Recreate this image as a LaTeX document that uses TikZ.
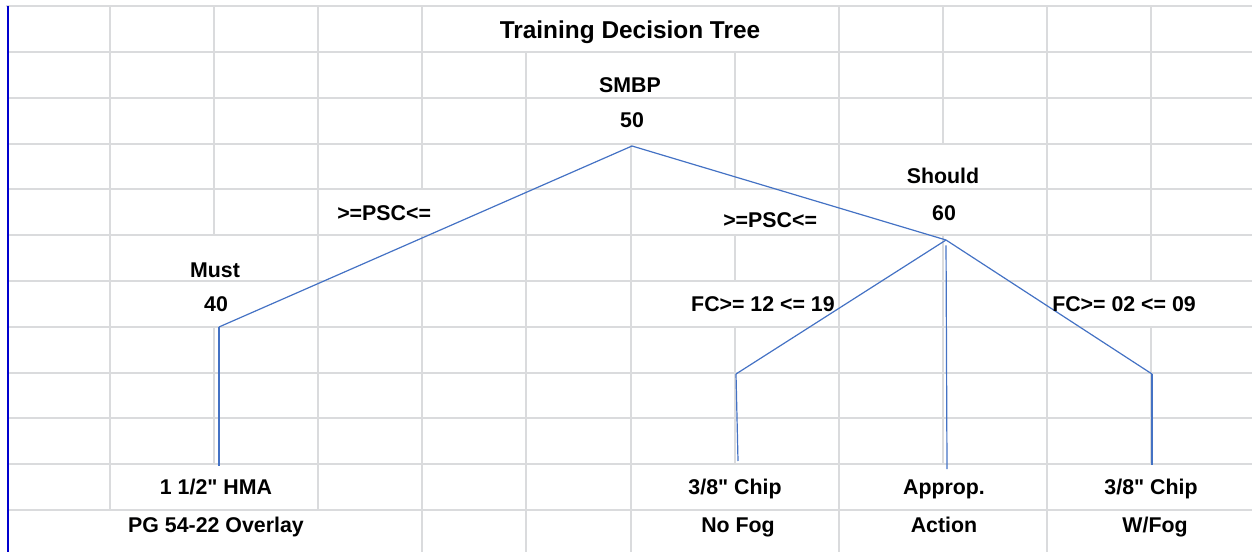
\documentclass[tikz,border=0pt]{standalone}
\definecolor{gridgray}{RGB}{218,219,221}
\definecolor{treeblue}{RGB}{68,114,196}
\definecolor{edgeblue}{RGB}{0,0,205}
\usepackage{fontspec}
\setmainfont{Liberation Sans}
% plain family: no TeX mapping, so " stays a straight inch mark
\newfontfamily\sheetfont{Liberation Sans}
\usepackage{tikz}
\usetikzlibrary{positioning}

\begin{document}
\begin{tikzpicture}[x=0.75pt, y=-0.75pt,
        gridline/.style={draw=gridgray, line width=1.5pt},
        branch/.style={draw=treeblue, line width=0.9pt},
        cell/.style={inner sep=0pt, anchor=base, font=\sheetfont\bfseries\fontsize{16}{18}\selectfont},
        title/.style={inner sep=0pt, anchor=base, font=\sheetfont\bfseries\fontsize{18.3}{21}\selectfont}
    ]
        \useasboundingbox (0,0) rectangle (1252,552);
        % sheet grid: rows every 45.75, merged cells leave gaps
        \foreach \r in {1,...,11}
            \draw[gridline] (8,{6.5+45.75*\r}) -- (1252,{6.5+45.75*\r});
        \draw[gridline] (6,6.5) -- (1252,6.5);
        \foreach \x/\a/\b in {110/0/11, 214.1/0/5, 214.1/7/10, 318.2/0/11,
                422.3/0/4, 422.3/5/12.2, 526.4/1/12.2, 630.5/3/12.2,
                734.6/1/4, 734.6/5/6, 734.6/7/10, 838.7/0/12.2,
                942.8/0/3, 942.8/5/10, 1046.9/0/12.2, 1151/0/6, 1151/7/10}
            \draw[gridline] (\x,{6.5+45.75*\a}) -- (\x,{6.5+45.75*\b});
        \draw[draw=edgeblue, line width=1.8pt] (8,6.5) -- (8,552);

        % tree
        \coordinate (smbp) at (632,146);
        \coordinate (must) at (219,327);
        \coordinate (should) at (946,240);
        \coordinate (nofog) at (736,374);
        \coordinate (wfog) at (1152,374);
        \coordinate (hmaend) at (219,466);
        \coordinate (nofogend) at (738,461);
        \coordinate (actionend) at (947,469);
        \coordinate (wfogend) at (1152,465);
        \draw[branch] (smbp) -- (must);
        \draw[branch] (smbp) -- (should);
        \draw[branch] (must) -- (hmaend);
        \draw[branch] (should) -- (nofog);
        \draw[branch] (nofog) -- (nofogend);
        \draw[branch, shorten <=4pt] (should) -- (actionend);
        \draw[branch] (should) -- (wfog);
        \draw[branch] (wfog) -- (wfogend);

        % labels
        \node[title] (ttl) at (630,39) {Training Decision Tree};
        \node[cell] (tsmbp) at (630,93) {SMBP};
        \node[cell] (vsmbp) at (632,128) {50};
        \node[cell] (tshould) at (943,184) {Should};
        \node[cell] (vshould) at (944,221) {60};
        \node[cell] (tmust) at (215,277) {Must};
        \node[cell] (vmust) at (216,311) {40};
        \node[cell, anchor=base west] (psca) at (337,221) {>=PSC<=};
        \node[cell, anchor=base west] (pscb) at (723,228) {>=PSC<=};
        \node[cell, anchor=base east] (fca) at (835,311) {FC>= 12 <= 19};
        \node[cell, anchor=base west] (fcb) at (1052,311) {FC>= 02 <= 09};
        \node[cell] (hma) at (216,494) {1 1/2" HMA};
        \node[cell] (pg) at (216,532) {PG 54-22 Overlay};
        \node[cell] (chipa) at (735,494) {3/8" Chip};
        \node[cell] (nofogtxt) at (738,532) {No Fog};
        \node[cell] (approp) at (944,494) {Approp.};
        \node[cell] (action) at (944,532) {Action};
        \node[cell] (chipb) at (1151,494) {3/8" Chip};
        \node[cell] (wfogtxt) at (1155,532) {W/Fog};
    \end{tikzpicture}
\end{document}
